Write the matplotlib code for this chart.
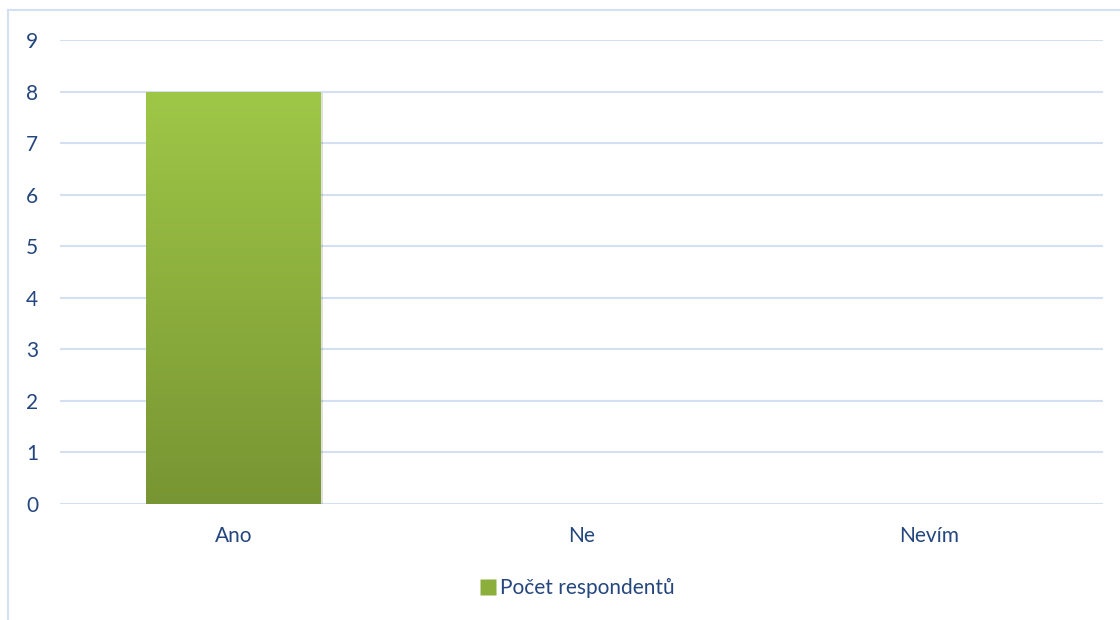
import numpy as np
import matplotlib.pyplot as plt
from matplotlib.colors import LinearSegmentedColormap
from matplotlib.patches import Rectangle
from matplotlib.lines import Line2D

categories = ["Ano", "Ne", "Nevím"]
values = [8, 0, 0]
series_name = "Počet respondentů"
y_ticks = list(range(0, 10))

text_color = "#24467e"
grid_color = "#d3e0f2"
top_green = "#9fc747"
bottom_green = "#789533"

plt.rcParams["font.family"] = ["Lato", "DejaVu Sans"]

fig = plt.figure(figsize=(11.2, 6.2), dpi=100)
# outer chart border
fig.patches.append(Rectangle((8 / 1120, -0.05), 1.2, 1 - 10 / 620 + 0.05,
                             transform=fig.transFigure, fill=False,
                             edgecolor=grid_color, linewidth=1.5))

ax = fig.add_axes([60 / 1120, 1 - 504 / 620, (1103 - 60) / 1120, (504 - 40) / 620])

for y in y_ticks:
    ax.axhline(y, color=grid_color, linewidth=1.5, zorder=0)

cmap = LinearSegmentedColormap.from_list("g", [bottom_green, top_green])
grad = np.linspace(0, 1, 256).reshape(-1, 1)
bars = ax.bar(range(len(categories)), values, width=0.503, color="none", zorder=2)
for bar, v in zip(bars, values):
    if v <= 0:
        continue
    x0 = bar.get_x()
    w = bar.get_width()
    # faint shadow
    ax.add_patch(Rectangle((x0 + 0.004, -0.03), w, v, facecolor="#000000",
                           alpha=0.12, edgecolor="none", zorder=1.5))
    im = ax.imshow(grad, extent=[x0, x0 + w, 0, v], origin="lower", cmap=cmap,
                   aspect="auto", zorder=2)
    im.set_clip_path(bar)
ax.set_xlim(-0.5, len(categories) - 0.5)
ax.set_ylim(0, 9)

ax.set_xticks(range(len(categories)))
ax.set_xticklabels(categories)
ax.set_yticks(y_ticks)
ax.tick_params(axis="both", length=0, labelsize=15, colors=text_color)
ax.tick_params(axis="x", pad=16)
ax.tick_params(axis="y", pad=20)
for lab in ax.get_yticklabels():
    lab.set_horizontalalignment("center")
for s in ax.spines.values():
    s.set_visible(False)

handle = Line2D([], [], marker="s", linestyle="none", markersize=11,
                markerfacecolor="#8cae3d", markeredgecolor="none")
fig.legend([handle], [series_name], loc="center", bbox_to_anchor=(576 / 1120, 1 - 588 / 620),
           frameon=False, fontsize=15, labelcolor=text_color, handletextpad=0.05,
           handlelength=1.0)

fig.savefig("out.png", dpi=100)
